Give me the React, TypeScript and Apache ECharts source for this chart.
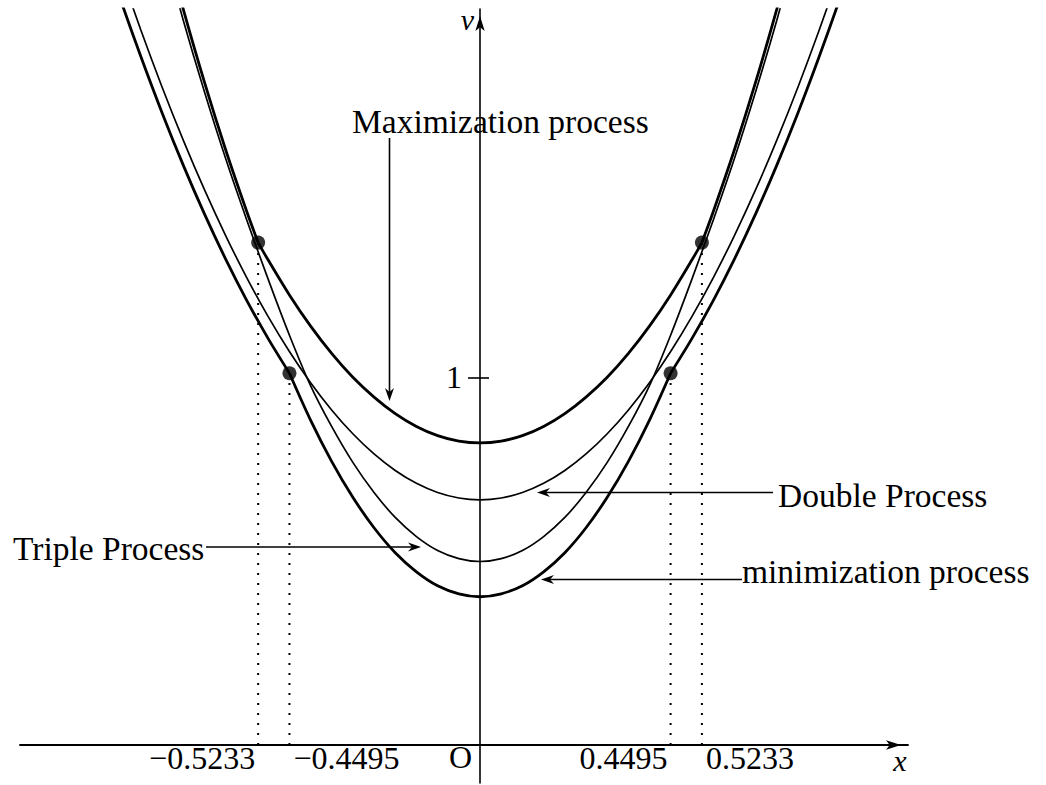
import React, { useEffect, useRef } from "react";
import * as echarts from "echarts";

// axis ranges (data units)
const X_RANGE = [-1.085, 1.0094];
const V_RANGE = [-0.1035, 2.0054];

// tick values and labels
const tickValues = [-0.5233, -0.4495, 0.4495, 0.5233];
const tickLabels = ["−0.5233", "−0.4495", "0.4495", "0.5233"];
const vTickValue = 1;
const vTickLabel = "1";

// right halves (x >= 0) of the symmetric curves
// Maximization process: inner shallow part and outer steep arm
const maxInnerX = [0, 0.05, 0.1, 0.15, 0.2, 0.25, 0.3, 0.35, 0.4, 0.45, 0.5, 0.5233];
const maxInnerV = [0.823, 0.828, 0.843, 0.868, 0.903, 0.948, 1.002, 1.067, 1.142, 1.227, 1.322, 1.369];
const maxOuterX = [0.5233, 0.55, 0.6, 0.65, 0.7, 0.75];
const maxOuterV = [1.369, 1.453, 1.622, 1.806, 2.005, 2.218];

// Double process
const doubleX = [0, 0.05, 0.1, 0.15, 0.2, 0.25, 0.3, 0.35, 0.4, 0.45, 0.5, 0.55, 0.6, 0.65, 0.7, 0.75, 0.8, 0.85];
const doubleV = [0.668, 0.673, 0.688, 0.713, 0.748, 0.793, 0.848, 0.913, 0.988, 1.073, 1.168, 1.273, 1.388, 1.513, 1.648, 1.793, 1.948, 2.113];

// Triple process
const tripleX = [0, 0.05, 0.1, 0.15, 0.2, 0.25, 0.3, 0.35, 0.4, 0.45, 0.5, 0.55, 0.6, 0.65, 0.7, 0.75];
const tripleV = [0.5, 0.508, 0.53, 0.568, 0.62, 0.688, 0.77, 0.868, 0.98, 1.118, 1.27, 1.43, 1.598, 1.78, 1.975, 2.185];

// minimization process: inner steep part and outer shallow arm
const minInnerX = [0, 0.05, 0.1, 0.15, 0.2, 0.25, 0.3, 0.35, 0.4, 0.4495];
const minInnerV = [0.404, 0.412, 0.434, 0.472, 0.524, 0.592, 0.675, 0.773, 0.886, 1.013];
const minOuterX = [0.4495, 0.5, 0.55, 0.6, 0.65, 0.7, 0.75, 0.8, 0.85, 0.9];
const minOuterV = [1.013, 1.108, 1.211, 1.324, 1.447, 1.58, 1.723, 1.876, 2.038, 2.211];

// switching points (marked by dots)
const dotX = [0.5233, 0.4495];
const dotV = [1.369, 1.013];

const annotationTexts = ["Maximization process", "Double Process", "Triple Process", "minimization process"];

const FONT = "'Liberation Serif', 'Times New Roman', serif";

function fullCurve(xs: number[], vs: number[]) {
  const right = xs.map((x, i) => [x, vs[i]]);
  const left = right
    .slice(1)
    .reverse()
    .map(([x, v]) => [-x, v]);
  return [...left, ...right];
}
function arm(xs: number[], vs: number[], sign: number) {
  return xs.map((x, i) => [sign * x, vs[i]]);
}

export default function App() {
  const ref = useRef<HTMLDivElement>(null);
  useEffect(() => {
    if (!ref.current) return;
    const chart = echarts.init(ref.current, undefined, { renderer: "svg" });
    const thick = { color: "#000", width: 2.8 };
    const thin = { color: "#000", width: 1.7 };
    const curve = (name: string, data: number[][], ls: any) => ({
      name,
      type: "line",
      data,
      smooth: 0.3,
      showSymbol: false,
      symbol: "none",
      lineStyle: ls,
      clip: true,
      z: 3,
    });
    const series: any[] = [
      curve("max-inner", fullCurve(maxInnerX, maxInnerV), thick),
      curve("max-outer-r", arm(maxOuterX, maxOuterV, 1), thick),
      curve("max-outer-l", arm(maxOuterX, maxOuterV, -1), thick),
      curve("double", fullCurve(doubleX, doubleV), thin),
      curve("triple", fullCurve(tripleX, tripleV), thin),
      curve("min-inner", fullCurve(minInnerX, minInnerV), thick),
      curve("min-outer-r", arm(minOuterX, minOuterV, 1), thick),
      curve("min-outer-l", arm(minOuterX, minOuterV, -1), thick),
    ];
    dotX.forEach((x, i) => {
      [1, -1].forEach((s) => {
        series.push({
          type: "line",
          data: [
            [s * x, 0],
            [s * x, dotV[i]],
          ],
          showSymbol: false,
          symbol: "none",
          lineStyle: { color: "#000", width: 2, type: [2, 8] },
          z: 2,
        });
      });
    });
    series.push({
      type: "scatter",
      data: dotX.flatMap((x, i) => [
        [-x, dotV[i]],
        [x, dotV[i]],
      ]),
      symbol: "circle",
      symbolSize: 14,
      itemStyle: { color: "#000" },
      z: 5,
    });

    chart.setOption({
      animation: false,
      backgroundColor: "#fff",
      grid: { left: 20, right: 138, top: 9, bottom: 2, containLabel: false },
      xAxis: {
        type: "value",
        min: X_RANGE[0],
        max: X_RANGE[1],
        axisLine: {
          onZero: true,
          symbol: ["none", "arrow"],
          symbolSize: [7, 15],
          symbolOffset: [0, -7],
          lineStyle: { color: "#000", width: 1.8 },
        },
        axisTick: { show: false },
        axisLabel: { show: false },
        splitLine: { show: false },
      },
      yAxis: {
        type: "value",
        min: V_RANGE[0],
        max: V_RANGE[1],
        axisLine: {
          onZero: true,
          symbol: ["none", "arrow"],
          symbolSize: [7, 15],
          symbolOffset: [0, -7],
          lineStyle: { color: "#000", width: 1.6 },
        },
        axisTick: { show: false },
        axisLabel: { show: false },
        splitLine: { show: false },
      },
      series,
    });

    const px = (x: number, v: number) => chart.convertToPixel({ gridIndex: 0 }, [x, v]) as number[];
    const textStyle = (extra: any) => ({
      fill: "#000",
      fontFamily: FONT,
      fontSize: 32,
      verticalAlign: "middle",
      ...extra,
    });
    const g: any[] = [];
    // tick labels on x axis
    const aligns = ["right", "left", "right", "left"];
    tickValues.forEach((t, i) => {
      const p = px(t, 0);
      g.push({
        type: "text",
        x: p[0] + (aligns[i] === "right" ? -3 : 4),
        y: 758,
        style: textStyle({ text: tickLabels[i], textAlign: aligns[i] }),
      });
    });
    const o = px(0, 0);
    g.push({ type: "text", x: o[0] - 8, y: 757, style: textStyle({ text: "O", textAlign: "right" }) });
    g.push({ type: "text", x: 900, y: 760, style: textStyle({ text: "x", textAlign: "center", fontStyle: "italic", fontSize: 30 }) });
    g.push({ type: "text", x: o[0] - 6, y: 19, style: textStyle({ text: "v", textAlign: "right", fontStyle: "italic", fontSize: 30 }) });
    // v tick
    const t1 = px(0, vTickValue);
    g.push({
      type: "line",
      shape: { x1: t1[0] - 12, y1: t1[1], x2: t1[0] + 9, y2: t1[1] },
      style: { stroke: "#000", lineWidth: 1.6 },
    });
    g.push({ type: "text", x: t1[0] - 18, y: t1[1] - 1, style: textStyle({ text: vTickLabel, textAlign: "right" }) });

    // annotations with arrows
    const arrowHead = (tx: number, ty: number, dir: "left" | "right" | "down") => {
      const L = 13, W = 4.5, N = 9;
      let pts: number[][];
      if (dir === "left") pts = [[tx, ty], [tx + L, ty - W], [tx + N, ty], [tx + L, ty + W]];
      else if (dir === "right") pts = [[tx, ty], [tx - L, ty - W], [tx - N, ty], [tx - L, ty + W]];
      else pts = [[tx, ty], [tx - W, ty - L], [tx, ty - N], [tx + W, ty - L]];
      return { type: "polygon", shape: { points: pts }, style: { fill: "#000" }, z: 10 };
    };
    const seg = (x1: number, y1: number, x2: number, y2: number) => ({
      type: "line",
      shape: { x1, y1, x2, y2 },
      style: { stroke: "#000", lineWidth: 1.6 },
      z: 10,
    });
    const annStyle = (text: string) => textStyle({ text, textAlign: "left", fontSize: 33.5 });
    // Maximization process
    g.push({ type: "text", x: 352, y: 121, style: annStyle(annotationTexts[0]) });
    g.push(seg(389.5, 138, 389.5, 392));
    g.push(arrowHead(389.5, 401, "down"));
    // Double Process
    g.push({ type: "text", x: 778, y: 495, style: annStyle(annotationTexts[1]) });
    g.push(seg(773, 492.5, 546, 492.5));
    g.push(arrowHead(537, 492.5, "left"));
    // Triple Process
    g.push({ type: "text", x: 13, y: 548, style: annStyle(annotationTexts[2]) });
    g.push(seg(206, 547, 412, 547));
    g.push(arrowHead(421, 547, "right"));
    // minimization process
    g.push({ type: "text", x: 742, y: 571, style: annStyle(annotationTexts[3]) });
    g.push(seg(742, 579.5, 550, 579.5));
    g.push(arrowHead(541, 579.5, "left"));

    chart.setOption({ graphic: g });
    return () => chart.dispose();
  }, []);
  return (
    <div
      ref={ref}
      style={{ position: "fixed", left: 0, top: 0, width: 1046, height: 785, background: "#fff" }}
    />
  );
}
